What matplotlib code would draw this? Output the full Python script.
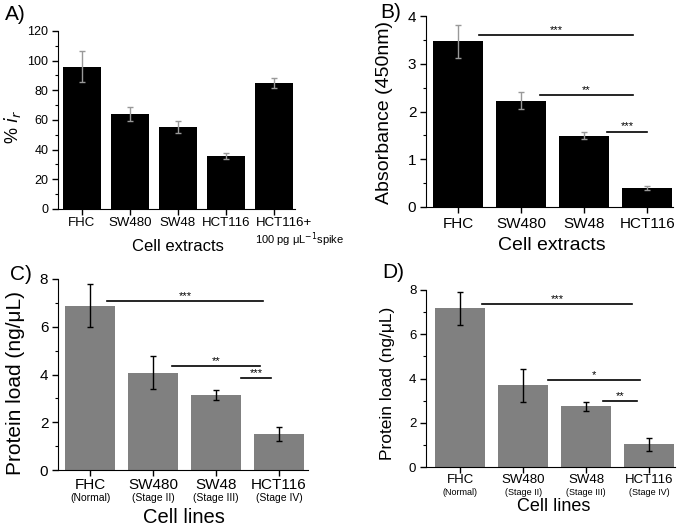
import numpy as np
import matplotlib.pyplot as plt
from matplotlib.ticker import MultipleLocator
from matplotlib.transforms import ScaledTranslation

plt.rcParams['font.family'] = ['Liberation Sans', 'DejaVu Sans']

# dados
cells_a = ['FHC', 'SW480', 'SW48', 'HCT116', 'HCT116+']
ir_a = [96, 64, 55, 36, 85]
err_a = [10.5, 5, 4, 2, 3.5]

cells = ['FHC', 'SW480', 'SW48', 'HCT116']
stages = ['(Normal)', '(Stage II)', '(Stage III)', '(Stage IV)']
abs_b = [3.47, 2.23, 1.49, 0.40]
err_b = [0.35, 0.18, 0.075, 0.045]

load_c = [6.88, 4.08, 3.14, 1.51]
err_c = [0.9, 0.7, 0.2, 0.31]

load_d = [7.17, 3.70, 2.74, 1.03]
err_d = [0.76, 0.74, 0.2, 0.3]

# significancia: (x ini, x fim, y, texto)
sig_b = [(0.33, 2.78, 3.60, '***'), (1.30, 2.77, 2.34, '**'), (2.37, 2.99, 1.58, '***')]
sig_c = [(0.27, 2.74, 7.07, '***'), (1.30, 2.69, 4.36, '**'), (2.40, 2.87, 3.84, '***')]
sig_d = [(0.35, 2.73, 7.35, '***'), (1.40, 2.86, 3.91, '*'), (2.27, 2.81, 3.00, '**')]

W, H = 685, 528
fig = plt.figure(figsize=(W / 100, H / 100), dpi=100)


def make_ax(l, r, b, t):
    return fig.add_axes([l / W, 1 - b / H, (r - l) / W, (b - t) / H])


def style(ax):
    ax.spines['top'].set_visible(False)
    ax.spines['right'].set_visible(False)
    ax.tick_params(direction='out', length=4, width=1, pad=3)
    ax.tick_params(which='minor', direction='out', length=2.5, width=0.8)


def labels(ax, xl, xs, xpos, yl, ys, ypos):
    ax.set_xlabel(xl, fontsize=xs)
    ax.xaxis.set_label_coords(*xpos)
    ax.xaxis.label.set_va('center')
    ax.set_ylabel(yl, fontsize=ys)
    ax.yaxis.set_label_coords(*ypos)
    ax.yaxis.label.set_va('center')


def sig(ax, items):
    for x0, x1, y, s in items:
        ax.plot([x0, x1], [y, y], color='black', lw=1.2)
        ax.text((x0 + x1) / 2, y, s, ha='center', va='bottom', fontsize=8)


# A
axA = make_ax(58, 295, 209, 31)
x = np.arange(len(cells_a))
axA.bar(x, ir_a, width=0.79, color='black')
axA.errorbar(x, ir_a, yerr=err_a, fmt='none', ecolor='#999999', capsize=2, lw=1)
axA.set_ylim(0, 120)
axA.set_xlim(-0.5, 4.44)
axA.yaxis.set_minor_locator(MultipleLocator(10))
axA.set_xticks(x)
axA.set_xticklabels(cells_a, fontsize=9.5)
axA.tick_params(axis='y', labelsize=9)
style(axA)
axA.tick_params(axis='x', pad=2)
last = axA.get_xticklabels()[-1]
last.set_transform(last.get_transform() + ScaledTranslation(0.1, 0, fig.dpi_scale_trans))
labels(axA, 'Cell extracts', 12, (0.506, -0.208), '% $i_r$', 13, (-0.19, 0.46))
axA.text(4.54, -0.172, '100 pg μL$^{-1}$spike', transform=axA.get_xaxis_transform(),
         ha='center', va='center', fontsize=8)
fig.text(5 / W, 1 - 15 / H, 'A)', fontsize=15, va='center')

# B
axB = make_ax(426, 673, 207, 16)
x = np.arange(len(cells))
axB.bar(x, abs_b, width=0.8, color='black')
axB.errorbar(x, abs_b, yerr=err_b, fmt='none', ecolor='#999999', capsize=2, lw=1)
axB.set_ylim(0, 4)
axB.set_xlim(-0.51, 3.41)
axB.yaxis.set_major_locator(MultipleLocator(1))
axB.yaxis.set_minor_locator(MultipleLocator(0.5))
axB.set_xticks(x)
axB.set_xticklabels(cells, fontsize=11)
axB.tick_params(axis='y', labelsize=11)
style(axB)
sig(axB, sig_b)
labels(axB, 'Cell extracts', 14, (0.51, -0.199), 'Absorbance (450nm)', 14, (-0.166, 0.497))
fig.text(380 / W, 1 - 13 / H, 'B)', fontsize=15, va='center')


def panel_cd(ax, vals, errs, items, tick_fs, sub_fs, sub_y, xpad):
    x = np.arange(len(cells))
    ax.bar(x, vals, width=0.79, color='#808080')
    ax.errorbar(x, vals, yerr=errs, fmt='none', ecolor='black', capsize=2, lw=1)
    ax.set_ylim(0, 8)
    ax.yaxis.set_major_locator(MultipleLocator(2))
    ax.yaxis.set_minor_locator(MultipleLocator(1))
    ax.set_xticks(x)
    ax.set_xticklabels(cells, fontsize=tick_fs)
    ax.tick_params(axis='y', labelsize=tick_fs)
    style(ax)
    ax.tick_params(axis='x', pad=xpad)
    for xi, s in zip(x, stages):
        ax.text(xi, sub_y, s, transform=ax.get_xaxis_transform(),
                ha='center', va='center', fontsize=sub_fs)
    sig(ax, items)


# C
axC = make_ax(58, 308, 470, 279)
panel_cd(axC, load_c, err_c, sig_c, 11, 7.5, -0.147, 2)
axC.set_xlim(-0.51, 3.46)
labels(axC, 'Cell lines', 14.5, (0.504, -0.251), 'Protein load (ng/μL)', 15, (-0.168, 0.455))
fig.text(10 / W, 1 - 275 / H, 'C)', fontsize=15, va='center')

# D
axD = make_ax(426, 675, 467, 290)
panel_cd(axD, load_d, err_d, sig_d, 9.5, 6.5, -0.145, 1)
axD.set_xlim(-0.54, 3.41)
labels(axD, 'Cell lines', 13, (0.514, -0.222), 'Protein load (ng/μL)', 12.5, (-0.153, 0.475))
fig.text(382 / W, 1 - 273 / H, 'D)', fontsize=15, va='center')

fig.savefig('out.png', dpi=100)
